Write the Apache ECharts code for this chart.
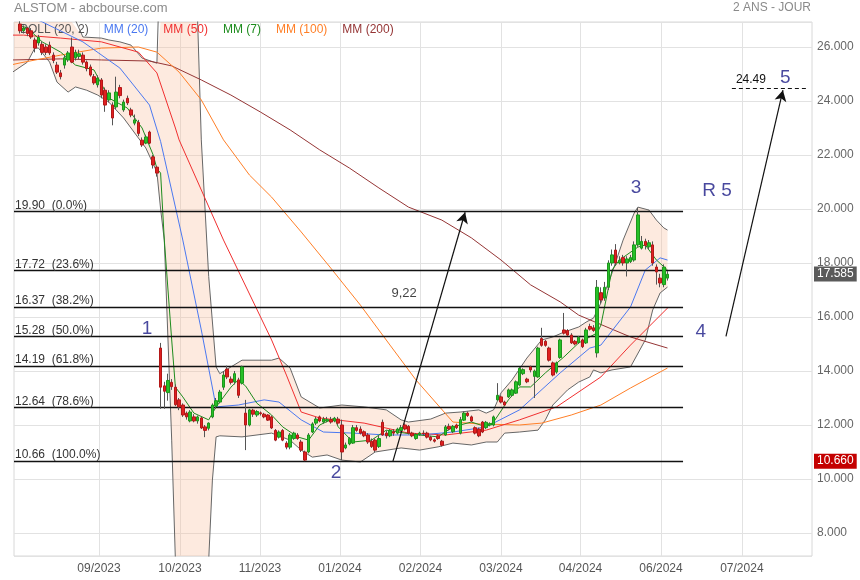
<!DOCTYPE html>
<html><head><meta charset="utf-8">
<script src="https://cdn.jsdelivr.net/npm/echarts@6/dist/echarts.min.js"></script>
<style>html,body{margin:0;padding:0;background:#fff}#c{width:860px;height:580px}</style>
</head><body><div id="c"></div>
<script>
// ---- daily candles (index 0 = first session shown) ----
const opens = [
26.85,26.6,26.7,26.6,26.26,26.15,26.1,26.0,26.07,25.7,
25.33,25.04,25.33,25.52,26.0,25.6,25.65,25.7,25.44,25.26,
24.9,24.6,24.78,24.4,24.04,23.85,23.78,24.5,23.67,24.1,
23.67,23.18,23.2,22.55,22.44,22.85,21.93,21.55,14.85,13.45,
13.2,13.58,13.4,12.93,12.74,12.44,12.15,12.3,12.15,12.26,
11.93,11.88,12.3,12.7,12.85,13.4,14.07,13.7,13.6,13.67,
13.55,12.44,12.0,12.55,12.37,12.45,12.4,12.37,12.3,11.8,
11.55,11.8,11.33,11.18,11.5,11.63,11.37,11.0,11.0,11.74,
12.07,12.3,12.11,12.15,12.2,12.15,12.22,12.0,11.15,11.3,
11.33,11.9,11.85,11.75,11.63,11.4,11.44,11.2,12.1,11.7,
11.6,11.75,11.7,11.8,12.0,11.95,11.7,11.5,11.65,11.7,
11.7,11.55,11.45,11.6,11.4,11.63,11.95,11.75,12.0,11.7,
12.18,12.44,12.3,11.9,11.85,12.11,11.9,12.0,12.0,12.93,
13.04,12.85,13.04,13.1,13.18,13.48,13.9,13.7,14.15,13.8,
13.78,15.2,15.1,14.85,14.3,13.96,14.5,15.52,15.5,15.33,
15.1,15.05,15.15,15.04,15.65,15.6,14.67,16.9,16.7,17.1,
18.0,18.48,18.0,18.2,18.0,18.05,18.11,18.67,18.55,18.8,
18.6,18.67,17.85,17.44,17.2,17.44];
const closes = [
26.6,26.7,26.5,26.37,25.96,26.35,25.8,25.8,25.78,25.5,
25.07,24.9,25.6,25.78,25.44,25.8,25.75,25.44,25.2,24.96,
24.67,24.85,24.22,23.85,24.3,23.37,24.33,24.2,23.96,23.93,
23.48,23.3,22.8,22.37,22.67,22.44,21.63,21.33,13.4,13.25,
13.65,13.42,12.75,12.67,12.37,12.3,12.48,12.15,12.3,11.89,
11.8,12.07,12.74,12.9,13.22,13.85,13.78,13.58,13.9,13.1,
14.15,12.0,12.56,12.4,12.5,12.42,12.3,12.18,11.89,11.44,
11.74,11.44,11.18,11.63,11.7,11.5,11.07,10.7,11.63,12.04,
12.22,12.15,12.22,12.2,12.11,12.25,12.07,11.0,11.26,11.5,
11.9,11.8,11.7,11.6,11.37,11.2,11.07,11.5,11.63,11.6,
11.8,11.7,11.85,11.9,11.85,11.7,11.6,11.65,11.7,11.68,
11.55,11.45,11.4,11.5,11.25,11.93,11.85,11.95,11.9,12.2,
12.44,12.35,12.15,11.7,11.6,11.74,12.1,12.05,12.3,13.1,
12.85,12.74,13.3,13.3,13.6,14.1,14.05,13.6,14.04,14.0,
14.85,14.95,14.95,14.4,13.85,14.3,15.15,15.4,15.33,15.04,
15.0,15.25,14.9,15.52,15.55,15.5,17.1,16.63,17.1,18.0,
18.3,18.0,18.1,18.0,18.15,18.2,18.67,19.78,18.8,18.65,
18.75,18.0,17.67,17.26,17.85,17.585];
const lows = [
26.5,26.5,26.4,26.3,25.8,26.05,25.7,25.7,25.7,25.4,
25.0,24.8,25.2,25.45,25.4,25.5,25.55,25.35,25.1,24.9,
24.6,24.5,24.1,23.6,23.95,23.1,23.7,24.1,23.6,23.85,
23.4,23.1,22.7,22.3,22.4,22.4,21.5,21.2,12.6,12.6,
12.9,13.3,12.7,12.55,12.3,12.2,12.1,12.1,12.05,11.85,
11.55,11.8,12.25,12.6,12.8,13.3,13.7,13.5,13.5,13.0,
13.5,11.07,11.95,12.3,12.3,12.35,12.25,12.15,11.85,11.4,
11.5,11.4,11.1,11.1,11.45,11.45,11.0,10.66,10.95,11.7,
12.0,12.1,12.05,12.1,12.05,12.1,12.0,10.7,11.1,11.25,
11.3,11.75,11.65,11.55,11.3,11.15,11.0,11.15,11.6,11.5,
11.55,11.6,11.65,11.75,11.8,11.65,11.55,11.45,11.6,11.6,
11.5,11.4,11.35,11.45,11.2,11.6,11.8,11.7,11.85,11.65,
12.15,12.3,12.1,11.65,11.55,11.7,11.85,11.95,11.95,12.9,
12.8,12.7,13.0,13.05,13.15,13.45,13.85,13.55,13.95,13.0,
13.75,14.9,14.9,14.35,13.8,13.9,14.45,15.35,15.3,15.0,
14.95,15.0,14.85,15.0,15.5,15.45,14.5,16.5,16.6,17.0,
17.9,17.9,17.95,17.9,17.5,18.0,18.05,18.6,18.5,18.5,
18.5,17.9,17.2,17.1,17.1,17.35];
const highs = [
26.95,26.8,26.75,26.7,26.35,26.45,26.2,26.1,26.2,25.8,
25.45,25.15,25.7,25.85,26.35,25.9,25.9,25.8,25.5,25.35,
25.0,24.95,24.85,24.5,24.4,23.95,24.9,24.6,24.05,24.2,
23.75,23.5,23.3,22.65,22.75,22.9,22.0,21.6,15.04,13.6,
13.9,13.7,13.5,13.0,12.8,12.5,12.55,12.4,12.35,12.3,
12.0,12.1,12.8,13.0,13.3,14.0,14.2,13.8,14.0,13.75,
14.2,12.93,12.6,12.6,12.55,12.5,12.45,12.4,12.35,11.85,
11.8,11.85,11.4,11.7,11.75,11.7,11.45,11.05,11.7,12.1,
12.3,12.35,12.3,12.3,12.3,12.3,12.3,12.2,11.35,11.55,
12.0,12.0,11.95,11.8,11.7,11.5,11.5,11.6,12.2,11.8,
11.85,11.85,11.9,12.0,12.1,12.0,11.75,11.7,11.75,11.8,
11.75,11.6,11.5,11.65,11.45,12.0,12.05,12.0,12.05,12.3,
12.5,12.5,12.35,11.95,11.9,12.15,12.15,12.1,12.35,13.55,
13.1,12.9,13.35,13.35,13.65,14.15,14.1,13.75,14.2,14.05,
14.9,15.6,15.15,14.9,14.35,14.35,15.2,16.15,15.55,15.4,
15.15,15.3,15.2,15.6,15.75,15.7,17.37,17.1,17.3,18.1,
18.5,18.7,18.25,18.3,18.25,18.3,18.8,20.04,19.0,18.9,
18.85,18.8,17.95,17.6,17.95,17.7];

// ---- indicators: [session index, value] ----
const ma200 = [[-2,25.52],[11,25.56],[22,25.52],[35,25.48],[41,25.3],[49,24.78],[57,24.22],[65,23.59],[73,22.93],[81,22.19],[89,21.52],[97,20.78],[105,20.07],[114,19.59],[122,18.93],[130,18.11],[138,17.19],[146,16.56],[151,16.07],[156,15.78],[165,15.26],[175,14.85]];
const ma100 = [[-2,25.35],[0,25.41],[11,25.7],[22,25.96],[32,26.0],[37,25.81],[43,25.07],[49,24.04],[55,22.56],[62,21.26],[68,20.44],[76,19.15],[84,17.81],[92,16.44],[100,14.96],[107,13.67],[117,12.11],[124,12.04],[135,12.0],[141,12.07],[149,12.37],[157,12.74],[165,13.37],[175,14.11]];
const ma50 = [[-2,26.44],[1,26.44],[11,26.33],[22,26.19],[32,25.81],[37,25.04],[42,23.0],[43,22.56],[55,18.85],[68,15.15],[72,13.85],[76,12.48],[81,12.26],[93,12.07],[105,11.7],[115,11.63],[126,11.81],[135,12.19],[145,12.67],[157,13.78],[165,14.96],[175,16.33]];
const ma20 = [[-2,27.4],[6,26.93],[17,26.19],[27,25.22],[35,23.85],[38,22.5],[39,21.9],[44,18.85],[49,15.52],[53,12.67],[59,12.74],[66,12.93],[70,12.85],[76,12.19],[82,11.74],[90,11.7],[99,11.63],[108,11.63],[117,11.74],[126,11.93],[135,12.56],[146,13.93],[154,14.85],[157,14.96],[165,16.37],[169,17.74],[173,18.19],[175,18.11]];
const ma7 = [[0,26.8],[2,26.7],[6,26.19],[11,25.81],[15,25.33],[20,25.15],[24,24.11],[29,23.74],[33,23.0],[36,22.0],[37,21.5],[38,21.33],[39,18.85],[41,15.15],[42,13.4],[44,13.04],[47,12.44],[51,12.19],[53,12.67],[57,13.4],[59,13.67],[61,13.44],[64,12.81],[68,12.37],[71,11.93],[75,11.56],[78,11.44],[81,12.0],[85,12.26],[86,11.93],[90,11.37],[95,11.44],[99,11.81],[104,11.7],[108,11.63],[113,11.56],[117,11.93],[122,12.11],[126,11.93],[128,12.11],[132,12.93],[135,13.41],[138,13.41],[142,13.93],[147,14.52],[151,15.04],[156,15.41],[157,15.7],[160,17.74],[162,18.11],[167,18.59],[169,18.67],[172,18.11],[175,17.74]];
const bollUp = [[-2,28.5],[10,28.0],[14,27.3],[17,26.37],[22,26.33],[24,26.26],[27,26.19],[30,26.07],[33,25.59],[37,25.4],[38,30],[46,30],[48,27.0],[49,22.56],[51,17.5],[53,14.15],[54,13.9],[60,14.4],[68,14.4],[70,14.48],[73,14.11],[76,13.04],[81,12.63],[87,12.74],[93,12.67],[99,12.56],[103,12.19],[105,12.11],[111,12.22],[115,12.44],[119,12.48],[124,12.56],[126,12.44],[128,12.56],[130,13.19],[133,13.67],[137,14.48],[141,15.15],[144,15.26],[147,15.44],[151,15.63],[153,15.81],[155,15.96],[157,16.52],[160,17.63],[163,18.85],[166,19.85],[167,20.07],[170,19.96],[172,19.59],[174,19.3],[175,19.22]];
const bollLow = [[-2,25.07],[2,25.44],[4,25.96],[5,25.96],[8,25.44],[10,24.7],[13,24.33],[15,24.52],[18,24.4],[21,24.22],[24,23.96],[28,23.37],[32,22.63],[34,22.26],[37,21.37],[38,20.0],[39,18.85],[40,15.15],[41,11.44],[42,7.0],[44,4.0],[48,4.0],[51,7.0],[52,9.96],[53,11.56],[54,11.6],[60,11.56],[68,11.7],[73,11.44],[76,11.07],[79,10.81],[83,10.89],[87,10.7],[92,10.63],[96,11.0],[103,11.15],[108,11.07],[113,11.19],[117,11.33],[122,11.26],[126,11.37],[129,11.37],[131,11.7],[135,11.74],[140,11.81],[142,12.19],[144,12.74],[148,13.3],[151,13.59],[154,13.78],[155,14.04],[157,13.93],[160,14.04],[165,14.15],[169,15.15],[171,16.26],[173,16.89],[175,17.11]];

// ---- Fibonacci retracement ----
const fibVal = [19.90, 17.72, 16.37, 15.28, 14.19, 12.64, 10.66];
const fibPct = ['0.0%', '23.6%', '38.2%', '50.0%', '61.8%', '78.6%', '100.0%'];
const fibEnd = 179.2;

// ---- month ticks ----
const monthPos = [21.35, 43.24, 64.86, 86.49, 108.24, 130.0, 151.5, 173.24, 195.1];
const monthLbl = ['09/2023','10/2023','11/2023','01/2024','02/2024','03/2024','04/2024','06/2024','07/2024'];

// ---- wave annotations ----
const noteText = ['1', '2', '3', 'R 5', '4', '5'];
const noteIdx = [34.3, 85.4, 166.5, 188.4, 184.0, 206.8];
const noteVal = [15.56, 10.22, 20.78, 20.67, 15.44, 24.85];
const arrowFrom = [[100.8, 10.66], [190.8, 15.28]];
const arrowTo = [[120.3, 19.88], [206.2, 24.40]];
const moveText = '9,22';
const movePos = [103.8, 16.89];
const targetVal = 24.49;
const targetFrom = 192.4, targetTo = 213.0;
const lastPrice = 17.585;
const lowPrice = 10.66;

const FONT = "'Liberation Sans', Arial, sans-serif";
const X_MIN = -1.6216, X_MAX = 214.054;
const Y_MIN = 7.148, Y_MAX = 26.926;

const idx = opens.map((_, i) => i);
const wickData = idx.map(i => [i, opens[i], closes[i], lows[i], highs[i]]);
const bodyData = idx.map(i => [i, opens[i], closes[i], Math.min(opens[i], closes[i]), Math.max(opens[i], closes[i])]);

function maSeries(name, data, color) {
  return { type: 'line', name: name, data: data, symbol: 'none', showSymbol: false, z: 4,
    lineStyle: { color: color, width: 1 }, itemStyle: { color: color }, silent: true, clip: true };
}

const chart = echarts.init(document.getElementById('c'), null, { renderer: 'canvas' });
chart.setOption({
  animation: false,
  backgroundColor: '#ffffff',
  textStyle: { fontFamily: FONT },
  title: [
    { text: 'ALSTOM - abcbourse.com', left: 14, top: 2, padding: 0,
      textStyle: { fontSize: 13, fontWeight: 'normal', color: '#8a8a8a', fontFamily: FONT } },
    { text: '2 ANS - JOUR', right: 49, top: 2, padding: 0,
      textStyle: { fontSize: 12, fontWeight: 'normal', color: '#8a8a8a', fontFamily: FONT } }
  ],
  legend: {
    left: 15, top: 23, padding: 0, itemWidth: 0, itemHeight: 14, itemGap: 10, icon: 'none',
    selectedMode: false,
    textStyle: { fontSize: 12, fontFamily: FONT },
    data: [
      { name: 'BOLL (20, 2)', textStyle: { color: '#555555' } },
      { name: 'MM (20)', textStyle: { color: '#4a78f0' } },
      { name: 'MM (50)', textStyle: { color: '#f03030' } },
      { name: 'MM (7)', textStyle: { color: '#1e8c1e' } },
      { name: 'MM (100)', textStyle: { color: '#ff7f27' } },
      { name: 'MM (200)', textStyle: { color: '#953535' } }
    ]
  },
  grid: { left: 14, right: 48, top: 22, bottom: 24, show: true, borderColor: '#d8d8d8', borderWidth: 1, backgroundColor: 'transparent' },
  xAxis: {
    type: 'value', min: X_MIN, max: X_MAX,
    axisLine: { show: false },
    axisTick: { show: false, customValues: monthPos },
    axisLabel: { customValues: monthPos, color: '#555', fontSize: 12, margin: 7, fontFamily: FONT,
      formatter: function (v) { const k = monthPos.indexOf(v); return k >= 0 ? monthLbl[k] : ''; } },
    splitLine: { show: true, lineStyle: { color: '#e2e2e2', width: 1 } }
  },
  yAxis: {
    type: 'value', position: 'right', min: Y_MIN, max: Y_MAX, splitNumber: 10, scale: true,
    axisLine: { show: false }, axisTick: { show: false },
    axisLabel: { color: '#666', fontSize: 12, margin: 5, fontFamily: FONT, showMinLabel: false, showMaxLabel: false,
      formatter: function (v) { return v.toFixed(3); } },
    splitLine: { show: true, lineStyle: { color: '#e2e2e2', width: 1 } }
  },
  series: [
    {
      type: 'custom', name: 'BOLL (20, 2)', silent: true, z: 1,
      data: [[0, 15]],
      renderItem: function (params, api) {
        const cs = params.coordSys;
        const clamp = function (p) {
          return [Math.max(cs.x, Math.min(cs.x + cs.width, p[0])), Math.max(cs.y, Math.min(cs.y + cs.height, p[1]))];
        };
        const pts = bollUp.map(function (p) { return clamp(api.coord(p)); })
          .concat(bollLow.slice().reverse().map(function (p) { return clamp(api.coord(p)); }));
        return { type: 'polygon', shape: { points: pts }, style: { fill: 'rgba(247,185,150,0.30)' } };
      }
    },
    {
      type: 'line', name: 'fib', data: [], silent: true, z: 2,
      markLine: {
        silent: true, symbol: ['none', 'none'], animation: false,
        lineStyle: { color: '#111', width: 1.3, type: 'solid' },
        label: { show: true, position: 'insideStartTop', color: '#333', fontSize: 12, fontFamily: FONT, distance: [1, 0] },
        data: fibVal.map(function (v, k) {
          return [{ coord: [X_MIN, v], label: { formatter: v.toFixed(2) + '  (' + fibPct[k] + ')' } }, { coord: [fibEnd, v] }];
        })
      }
    },
    { type: 'line', name: 'BOLL (20, 2)', data: bollUp, symbol: 'none', z: 3, silent: true, lineStyle: { color: '#666', width: 1 }, itemStyle: { color: '#666' } },
    { type: 'line', name: 'BOLL (20, 2)', data: bollLow, symbol: 'none', z: 3, silent: true, lineStyle: { color: '#666', width: 1 }, itemStyle: { color: '#666' } },
    maSeries('MM (200)', ma200, '#953535'),
    maSeries('MM (100)', ma100, '#ff7f27'),
    maSeries('MM (50)', ma50, '#f03030'),
    maSeries('MM (20)', ma20, '#4a78f0'),
    maSeries('MM (7)', ma7, '#1e8c1e'),
    {
      type: 'candlestick', name: 'wick', data: wickData, encode: { x: 0, y: [1, 2, 3, 4] },
      barWidth: 0, z: 5, silent: true,
      itemStyle: { color: '#555', color0: '#555', borderColor: '#555', borderColor0: '#555', borderWidth: 1 }
    },
    {
      type: 'candlestick', name: 'body', data: bodyData, encode: { x: 0, y: [1, 2, 3, 4] },
      barWidth: 3, z: 6, silent: true,
      itemStyle: { color: '#27c027', color0: '#e02020', borderColor: '#1c961c', borderColor0: '#b31818', borderWidth: 1 },
      markLine: {
        silent: true, symbol: ['none', 'none'],
        lineStyle: { color: 'transparent', width: 0 },
        label: { show: true, position: 'end', distance: 2, color: '#fff', fontSize: 12, fontFamily: FONT, padding: [2, 3, 1, 3] },
        data: [
          { yAxis: lastPrice, label: { formatter: lastPrice.toFixed(3), backgroundColor: '#5a5a5a' } },
          { yAxis: lowPrice, label: { formatter: lowPrice.toFixed(3), backgroundColor: '#c40000' } }
        ]
      }
    },
    {
      type: 'scatter', name: 'notes', z: 7, silent: true, symbolSize: 0,
      data: noteIdx.map(function (x, k) { return [x, noteVal[k]]; }),
      label: { show: true, position: 'inside', color: '#1a1a86', fontSize: 19, fontFamily: FONT,
        formatter: function (p) { return noteText[p.dataIndex]; } },
      markLine: {
        silent: true, animation: false, symbol: ['none', 'arrow'], symbolSize: [9, 11],
        lineStyle: { color: '#111', width: 1.2, type: 'solid' },
        label: { show: false },
        data: arrowFrom.map(function (a, k) { return [{ coord: a }, { coord: arrowTo[k] }]; }).concat([
          [{ coord: [targetFrom, targetVal], symbol: 'none', lineStyle: { type: [4, 3], color: '#111', width: 1 },
             label: { show: true, position: 'insideStartTop', formatter: targetVal.toFixed(2), color: '#111', fontSize: 12, fontFamily: FONT, distance: [4, 2] } },
           { coord: [targetTo, targetVal], symbol: 'none' }]
        ])
      }
    },
    {
      type: 'scatter', name: 'move', z: 7, silent: true, symbolSize: 0,
      data: [movePos],
      label: { show: true, position: 'inside', color: '#111', fontSize: 13, fontFamily: FONT, formatter: moveText }
    }
  ]
});
</script></body></html>
